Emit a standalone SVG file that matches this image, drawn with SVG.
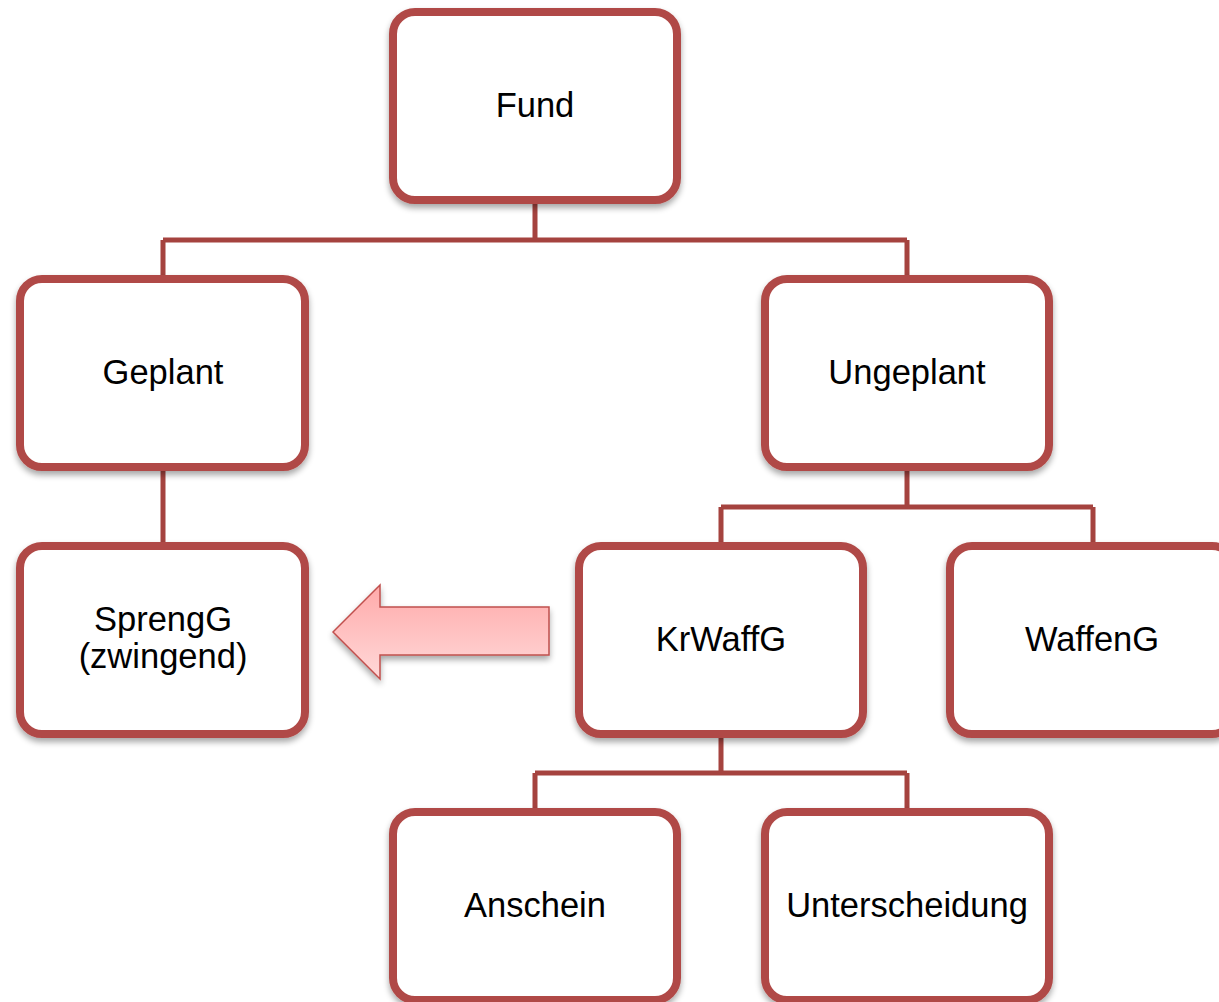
<svg xmlns="http://www.w3.org/2000/svg" width="1219" height="1002" viewBox="0 0 1219 1002">
<defs>
<filter id="sh" x="-10%" y="-10%" width="125%" height="130%">
<feGaussianBlur in="SourceAlpha" stdDeviation="3"/>
<feOffset dx="0" dy="4" result="b"/>
<feComponentTransfer><feFuncA type="linear" slope="0.35"/></feComponentTransfer>
<feMerge><feMergeNode/><feMergeNode in="SourceGraphic"/></feMerge>
</filter>
<linearGradient id="ag" x1="0" y1="0" x2="0" y2="1">
<stop offset="0" stop-color="#ffaaaa"/>
<stop offset="1" stop-color="#ffd9d9"/>
</linearGradient>
<style>
.box{fill:#ffffff;stroke:#b04a47;stroke-width:8;filter:url(#sh)}
.lbl{font-family:"Liberation Sans",Arial,sans-serif;font-size:34.5px;fill:#000;text-anchor:middle}
.con{fill:none;stroke:#a5433f;stroke-width:5}
</style>
</defs>
<g id="connectors">
<path class="con" d="M535 200 V240 M163 240 H907 M163 240 V279 M907 240 V279"/>
<path class="con" d="M163 467 V546"/>
<path class="con" d="M907 467 V507 M721 507 H1093 M721 507 V546 M1093 507 V546"/>
<path class="con" d="M721 734 V773 M535 773 H907 M535 773 V812 M907 773 V812"/>
</g>
<g id="fund"><rect class="box" x="393" y="12" width="284" height="188" rx="22"/><text class="lbl" x="535" y="117">Fund</text></g>
<g id="geplant"><rect class="box" x="20" y="279" width="285" height="188" rx="22"/><text class="lbl" x="163" y="384">Geplant</text></g>
<g id="ungeplant"><rect class="box" x="765" y="279" width="284" height="188" rx="22"/><text class="lbl" x="907" y="384">Ungeplant</text></g>
<g id="sprengg"><rect class="box" x="20" y="546" width="285" height="188" rx="22"/><text class="lbl" x="163" y="631">SprengG</text><text class="lbl" x="163" y="668">(zwingend)</text></g>
<g id="krwaffg"><rect class="box" x="579" y="546" width="284" height="188" rx="22"/><text class="lbl" x="721" y="651">KrWaffG</text></g>
<g id="waffeng"><rect class="box" x="950" y="546" width="284" height="188" rx="22"/><text class="lbl" x="1092" y="651">WaffenG</text></g>
<g id="anschein"><rect class="box" x="393" y="812" width="284" height="188" rx="22"/><text class="lbl" x="535" y="917">Anschein</text></g>
<g id="unterscheidung"><rect class="box" x="765" y="812" width="284" height="188" rx="22"/><text class="lbl" x="907" y="917">Unterscheidung</text></g>
<g id="arrow"><path d="M333 632 L380 585 V607 H549 V655 H380 V679 Z" fill="url(#ag)" stroke="#c0504d" stroke-width="1.5" filter="url(#sh)"/></g>
</svg>
